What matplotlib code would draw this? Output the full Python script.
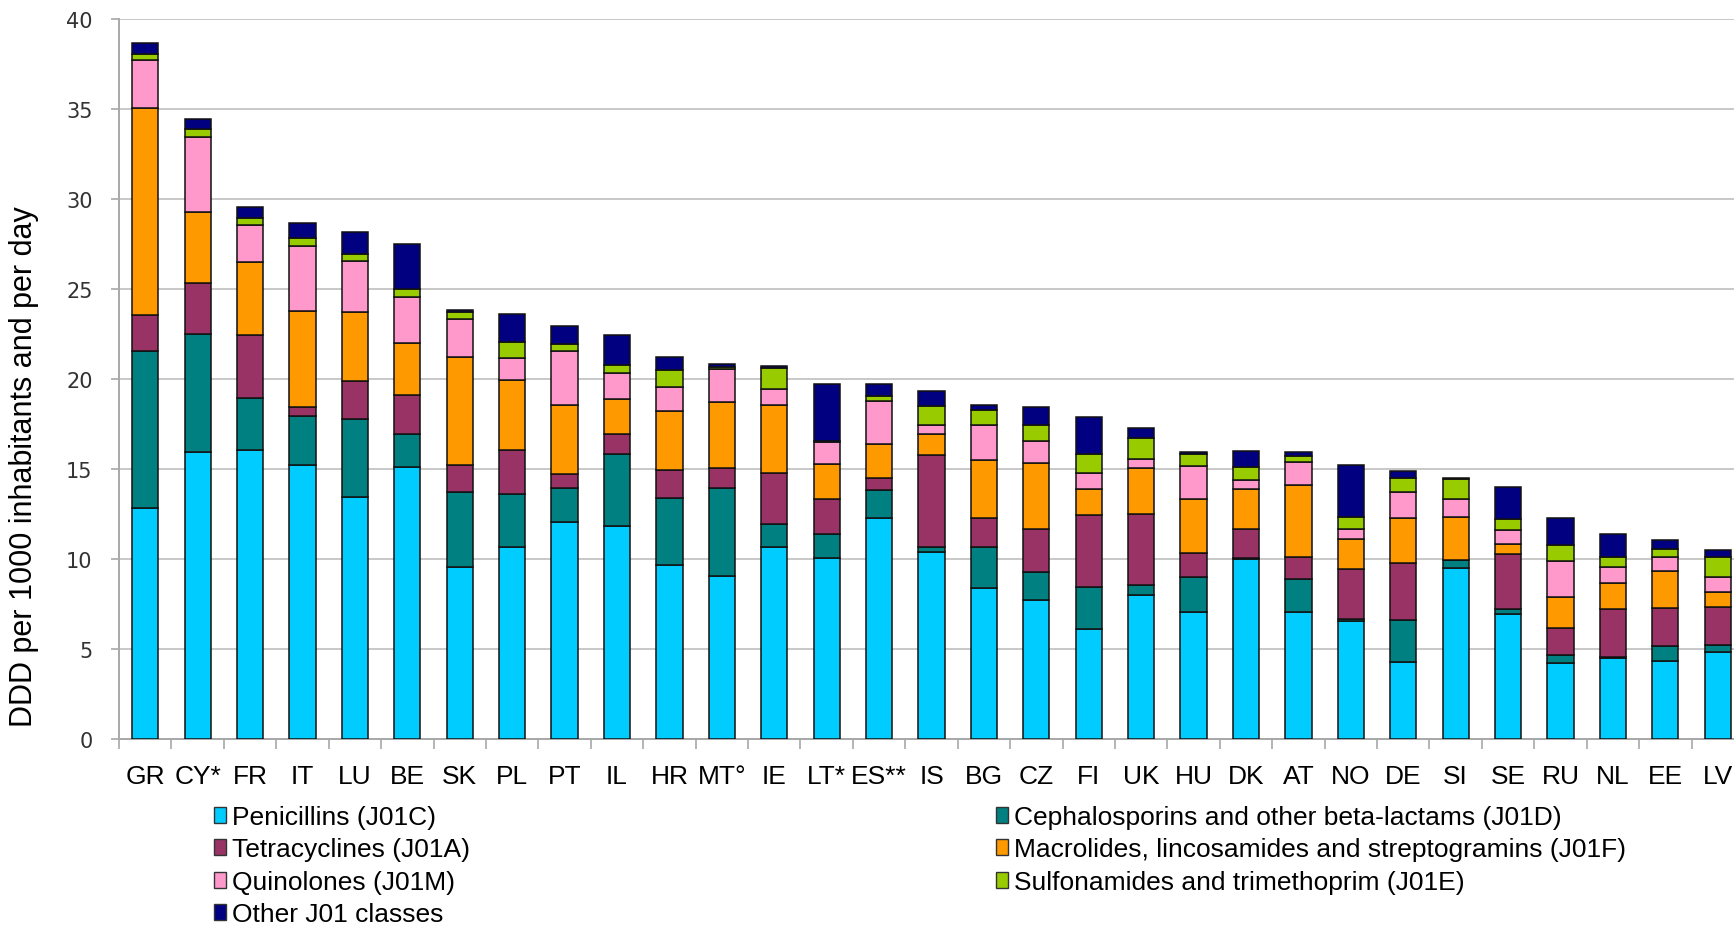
import matplotlib
matplotlib.use('Agg')
import matplotlib.pyplot as plt
import numpy as np
from matplotlib.patches import Patch

countries = ['GR', 'CY*', 'FR', 'IT', 'LU', 'BE', 'SK', 'PL', 'PT', 'IL', 'HR', 'MT°',
             'IE', 'LT*', 'ES**', 'IS', 'BG', 'CZ', 'FI', 'UK', 'HU', 'DK', 'AT', 'NO',
             'DE', 'SI', 'SE', 'RU', 'NL', 'EE', 'LV']

penicillins = [12.86, 15.95, 16.03, 15.20, 13.45, 15.12, 9.55, 10.68, 12.03, 11.85, 9.69, 9.06,
               10.68, 10.08, 12.28, 10.38, 8.38, 7.72, 6.11, 8.00, 7.07, 10.01, 7.07, 6.56,
               4.30, 9.48, 6.94, 4.22, 4.48, 4.33, 4.81]
cephalosporins = [8.71, 6.54, 2.93, 2.74, 4.33, 1.85, 4.17, 2.91, 1.93, 3.96, 3.72, 4.86,
                  1.29, 1.32, 1.56, 0.31, 2.31, 1.57, 2.35, 0.57, 1.94, 0.02, 1.84, 0.13,
                  2.33, 0.46, 0.28, 0.47, 0.08, 0.86, 0.43]
tetracyclines = [1.99, 2.85, 3.47, 0.51, 2.10, 2.13, 1.50, 2.47, 0.74, 1.15, 1.54, 1.11,
                 2.79, 1.95, 0.68, 5.08, 1.57, 2.40, 4.01, 3.95, 1.35, 1.62, 1.22, 2.74,
                 3.13, 0.02, 3.04, 1.50, 2.66, 2.09, 2.11]
macrolides = [11.49, 3.95, 4.06, 5.33, 3.82, 2.90, 6.01, 3.90, 3.84, 1.95, 3.26, 3.70,
              3.78, 1.93, 1.87, 1.16, 3.25, 3.64, 1.42, 2.53, 2.99, 2.24, 3.96, 1.68,
              2.54, 2.36, 0.59, 1.68, 1.45, 2.07, 0.84]
quinolones = [2.69, 4.14, 2.05, 3.63, 2.85, 2.58, 2.12, 1.23, 3.04, 1.44, 1.36, 1.82,
              0.91, 1.23, 2.38, 0.52, 1.94, 1.22, 0.90, 0.52, 1.81, 0.52, 1.32, 0.54,
              1.40, 1.03, 0.76, 2.00, 0.87, 0.78, 0.83]
sulfonamides = [0.29, 0.46, 0.43, 0.43, 0.40, 0.41, 0.37, 0.88, 0.37, 0.43, 0.94, 0.13,
                1.15, 0.02, 0.31, 1.07, 0.83, 0.88, 1.02, 1.16, 0.65, 0.70, 0.29, 0.68,
                0.78, 1.08, 0.59, 0.91, 0.57, 0.44, 1.09]
other_j01 = [0.62, 0.54, 0.59, 0.80, 1.24, 2.50, 0.10, 1.52, 1.01, 1.64, 0.70, 0.14,
             0.14, 3.20, 0.63, 0.83, 0.30, 1.00, 2.10, 0.54, 0.16, 0.88, 0.23, 2.87,
             0.41, 0.09, 1.78, 1.48, 1.28, 0.49, 0.37]

series = [
    ('Penicillins (J01C)', penicillins, '#00CCFF'),
    ('Cephalosporins and other beta-lactams (J01D)', cephalosporins, '#008080'),
    ('Tetracyclines (J01A)', tetracyclines, '#993366'),
    ('Macrolides, lincosamides and streptogramins (J01F)', macrolides, '#FF9900'),
    ('Quinolones (J01M)', quinolones, '#FF99CC'),
    ('Sulfonamides and trimethoprim (J01E)', sulfonamides, '#99CC00'),
    ('Other J01 classes', other_j01, '#000080'),
]

narrow = ['Liberation Sans Narrow', 'Liberation Sans', 'DejaVu Sans']

W, H = 1734, 929
fig = plt.figure(figsize=(W / 100, H / 100), dpi=100)
# axes runs slightly past the right edge, like the cropped original
ax = fig.add_axes([119 / W, 189 / H, 1625 / W, 720 / H])

x = np.arange(len(countries))
bottom = np.zeros(len(countries))
handles = []
for label, vals, color in series:
    vals = np.array(vals)
    ax.bar(x, vals, width=0.5, bottom=bottom, color=color,
           edgecolor='#111111', linewidth=1.1, zorder=3)
    bottom += vals
    handles.append(Patch(facecolor=color, edgecolor='#333333', linewidth=1.0, label=label))

ax.set_xlim(-0.5, len(countries) - 0.5)
ax.set_ylim(0, 40)
ax.set_yticks(np.arange(0, 41, 5))
ax.grid(axis='y', color='#c8c8c8', linewidth=1.4, zorder=0)
ax.set_axisbelow(True)

for s in ['top', 'right']:
    ax.spines[s].set_visible(False)
for s in ['left', 'bottom']:
    ax.spines[s].set_color('#a8a8a8')
    ax.spines[s].set_linewidth(1.4)

ax.set_xticks(x)
ax.set_xticklabels(countries, fontsize=19, family=narrow)
ax.set_xticks(np.arange(-0.5, len(countries), 1), minor=True)
ax.tick_params(axis='x', which='major', length=0, pad=18)
ax.tick_params(axis='x', which='minor', length=7, color='#a8a8a8', width=1.2)
ax.tick_params(axis='y', length=6, color='#a8a8a8', width=1.2, pad=13,
               labelsize=15, labelcolor='#333333')

ax.set_ylabel('DDD per 1000 inhabitants and per day', fontsize=22, family=narrow)
ax.yaxis.set_label_coords(-0.049, 0.38)

legend_kw = dict(frameon=False, prop={'family': narrow, 'size': 19},
                 handlelength=0.45, handleheight=0.55, handletextpad=0.25,
                 labelspacing=0.32, borderpad=0, borderaxespad=0, loc='upper left')
left_items = [handles[i] for i in (0, 2, 4, 6)]
right_items = [handles[i] for i in (1, 3, 5)]
fig.legend(handles=left_items, bbox_to_anchor=(214 / W, 1 - 806 / H), **legend_kw)
fig.legend(handles=right_items, bbox_to_anchor=(996 / W, 1 - 806 / H), **legend_kw)

fig.savefig('out.png', dpi=100)
